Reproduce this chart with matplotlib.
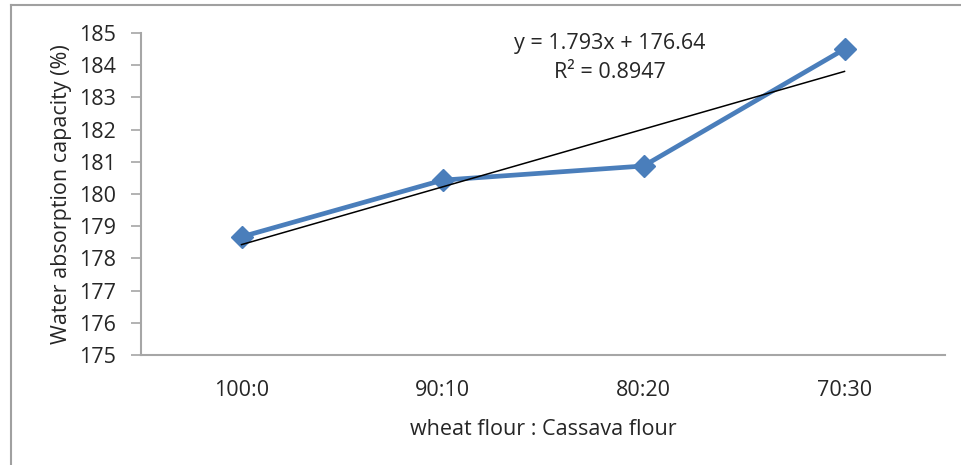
import numpy as np
import matplotlib
matplotlib.use("Agg")
import matplotlib.pyplot as plt
from matplotlib.lines import Line2D

categories = ["100:0", "90:10", "80:20", "70:30"]
values = [178.67, 180.43, 180.87, 184.5]
y_ticks = [175, 176, 177, 178, 179, 180, 181, 182, 183, 184, 185]
equation_text = "y = 1.793x + 176.64"
r2_text = "R² = 0.8947"
xlabel = "wheat flour : Cassava flour"
ylabel = "Water absorption capacity (%)"

plt.rcParams['font.family'] = ['Open Sans', 'DejaVu Sans']
FS = 15.5

W, H = 961, 465
fig = plt.figure(figsize=(W/100, H/100), dpi=100)
ax = fig.add_axes([141/W, 1-355/H, (945-141)/W, (355-33)/H])

x = np.arange(1, len(categories)+1)
ax.plot(x, values, color="#4a7ebb", lw=3.4, marker="D", markersize=11.5,
        solid_joinstyle="miter", zorder=3)
coef = np.polyfit(x, values, 1)
ax.plot(x, np.polyval(coef, x), color="black", lw=1.1, zorder=4)

ax.set_xlim(0.5, len(categories)+0.5)
ax.set_ylim(175, 185)
ax.set_yticks(y_ticks)
ax.set_xticks(x)
ax.set_xticklabels(categories)
ax.tick_params(axis='x', length=0, pad=18, labelsize=FS, colors="#262626")
ax.tick_params(axis='y', length=7, width=1.2, color="#a6a6a6", pad=11, labelsize=FS, labelcolor="#262626")
for s in ["top", "right"]:
    ax.spines[s].set_visible(False)
for s in ["left", "bottom"]:
    ax.spines[s].set_color("#a6a6a6")
    ax.spines[s].set_linewidth(1.5)

ax.set_xlabel(xlabel, fontsize=FS, color="#262626", labelpad=13)
ax.set_ylabel(ylabel, fontsize=FS, color="#262626", labelpad=5)

fig.text(610/W, 1-43/H, equation_text, ha="center", va="center", fontsize=FS, color="#262626")
fig.text(610/W, 1-73/H, r2_text, ha="center", va="center", fontsize=FS, color="#262626")

# outer chart border (left and top visible)
fig.add_artist(Line2D([11/W, 11/W], [0, 1-5/H], transform=fig.transFigure, color="#a0a0a0", lw=1.5))
fig.add_artist(Line2D([11/W, 1], [1-5/H, 1-5/H], transform=fig.transFigure, color="#a0a0a0", lw=1.5))

fig.savefig("out.png", dpi=100)
